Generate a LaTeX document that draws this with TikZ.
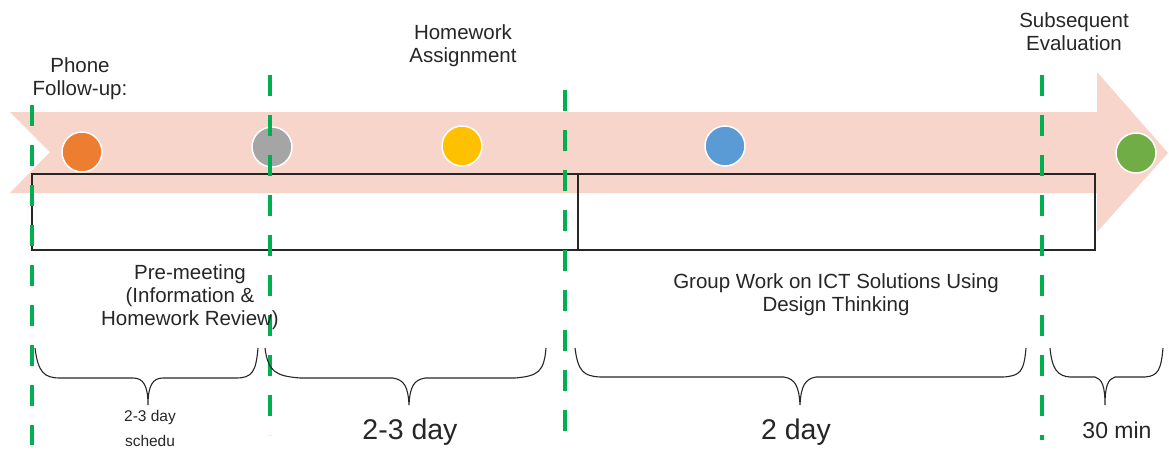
\documentclass[tikz,border=0pt]{standalone}
\usepackage{fontspec}
\setmainfont{Liberation Sans}
\begin{document}
\begin{tikzpicture}[x=1pt,y=-1pt,
  dot/.style={circle,draw=white,line width=1.5pt,minimum size=40pt,inner sep=0pt},
  gline/.style={draw={rgb,255:red,0;green,176;blue,80},line width=4.5pt,dash pattern=on 21pt off 19pt},
  brc/.style={draw=black!85,line width=1.1pt},
  lbl/.style={font=\fontsize{20.5}{23}\selectfont,align=center,text=black!85,inner sep=0pt}]
\definecolor{arrowpink}{RGB}{247,213,203}
\useasboundingbox (0,0) rectangle (1169,450);
% big arrow
\fill[arrowpink] (10,112) -- (1097,112) -- (1097,72) -- (1168,153) -- (1097,232) -- (1097,193) -- (10,193) -- (50,152) -- cycle;
% box
\draw[black!85,line width=1.2pt] (32,174) rectangle (1095,250);
\draw[black!85,line width=1.2pt] (578,174) -- (578,250);
% dots
\node[dot,fill={rgb,255:red,237;green,125;blue,49}] (d1) at (82,152) {};
\node[dot,fill={rgb,255:red,165;green,165;blue,165}] (d2) at (272,147) {};
\node[dot,fill={rgb,255:red,255;green,192;blue,0}] (d3) at (462,146) {};
\node[dot,fill={rgb,255:red,91;green,155;blue,213}] (d4) at (725,146) {};
\node[dot,fill={rgb,255:red,112;green,173;blue,71}] (d5) at (1136,153) {};
% dashed green lines
\coordinate (g1a) at (32,105); \coordinate (g1b) at (32,445);
\coordinate (g2a) at (270,75); \coordinate (g2b) at (270,435);
\coordinate (g3a) at (565,90); \coordinate (g3b) at (565,442);
\coordinate (g4a) at (1042,75); \coordinate (g4b) at (1042,440);
\draw[gline] (g1a) -- (g1b);
\draw[gline] (g2a) -- (g2b);
\draw[gline] (g3a) -- (g3b);
\draw[gline] (g4a) -- (g4b);
% labels
\node[lbl] (t1) at (80,79) {Phone\\Follow-up:};
\node[lbl] (t2) at (463,46) {Homework\\Assignment};
\node[lbl] (t3) at (1074,32) {Subsequent\\Evaluation};
\node[lbl] (t4) at (190,297) {Pre-meeting\\(Information \&\\Homework Review)};
\node[lbl] (t5) at (836,295) {Group Work on ICT Solutions Using\\Design Thinking};
% braces
\draw[brc] (35,348) .. controls (38,372) and (44,378) .. (60,378) -- (133,378) .. controls (143,378) and (148,385) .. (148,405)
  .. controls (148,385) and (153,378) .. (163,378) -- (236,378) .. controls (252,378) and (256,372) .. (258,348);
\draw[brc] (265,348) .. controls (268,372) and (276,376) .. (300,378) -- (393,378) .. controls (404,380) and (408,386) .. (409,405)
  .. controls (410,386) and (414,380) .. (425,378) -- (515,378) .. controls (538,376) and (544,372) .. (546,348);
\draw[brc] (575,348) .. controls (578,372) and (584,376) .. (600,377) -- (784,377) .. controls (795,379) and (799,386) .. (800,405)
  .. controls (801,386) and (805,379) .. (816,377) -- (1003,377) .. controls (1020,376) and (1024,372) .. (1026,348);
\draw[brc] (1050,348) .. controls (1052,370) and (1058,376) .. (1070,377) -- (1095,377) .. controls (1102,379) and (1105,386) .. (1105,405)
  .. controls (1105,386) and (1108,379) .. (1115,377) -- (1145,377) .. controls (1158,376) and (1161,370) .. (1163,348);
\node[lbl,font=\fontsize{15.5}{25}\selectfont] (b1) at (150,428) {2-3 day\\schedu};
\node[lbl,font=\fontsize{28.5}{30}\selectfont] (b2) at (410,432) {2-3 day};
\node[lbl,font=\fontsize{28.5}{30}\selectfont] (b3) at (796,432) {2 day};
\node[lbl,font=\fontsize{23}{26}\selectfont] (b4) at (1117,430) {30 min};
\end{tikzpicture}
\end{document}
